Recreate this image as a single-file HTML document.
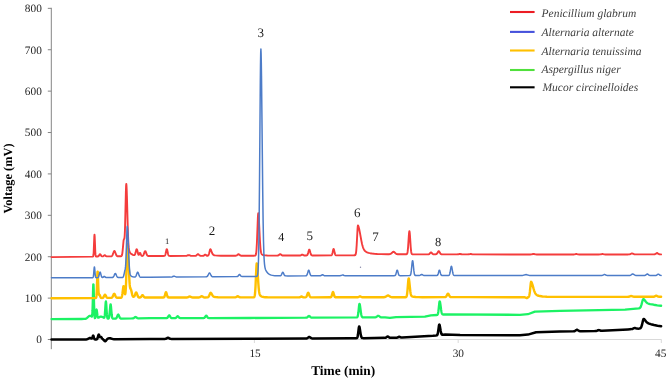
<!DOCTYPE html>
<html><head><meta charset="utf-8"><style>
html,body{margin:0;padding:0;background:#fff;width:668px;height:380px;overflow:hidden;}
svg{display:block;will-change:transform;}
</style></head><body>
<svg width="668" height="380" viewBox="0 0 668 380" text-rendering="geometricPrecision">
<rect width="668" height="380" fill="#ffffff"/>
<g font-family="Liberation Serif" fill="#262626" font-size="11.3">
<text x="41.8" y="12.25" text-anchor="end">800</text><text x="41.8" y="53.64" text-anchor="end">700</text><text x="41.8" y="95.04" text-anchor="end">600</text><text x="41.8" y="136.43" text-anchor="end">500</text><text x="41.8" y="177.82" text-anchor="end">400</text><text x="41.8" y="219.22" text-anchor="end">300</text><text x="41.8" y="260.61" text-anchor="end">200</text><text x="41.8" y="302.01" text-anchor="end">100</text><text x="41.8" y="343.40" text-anchor="end">0</text>
<text x="255.1" y="356.9" text-anchor="middle">15</text><text x="458.3" y="356.9" text-anchor="middle">30</text><text x="660.7" y="356.9" text-anchor="middle">45</text>
</g>
<line x1="51.3" y1="7.8" x2="51.3" y2="349.2" stroke="#858585" stroke-width="1"/><line x1="47.8" y1="8.35" x2="51.3" y2="8.35" stroke="#858585" stroke-width="1"/><line x1="47.8" y1="49.74" x2="51.3" y2="49.74" stroke="#858585" stroke-width="1"/><line x1="47.8" y1="91.14" x2="51.3" y2="91.14" stroke="#858585" stroke-width="1"/><line x1="47.8" y1="132.53" x2="51.3" y2="132.53" stroke="#858585" stroke-width="1"/><line x1="47.8" y1="173.92" x2="51.3" y2="173.92" stroke="#858585" stroke-width="1"/><line x1="47.8" y1="215.32" x2="51.3" y2="215.32" stroke="#858585" stroke-width="1"/><line x1="47.8" y1="256.71" x2="51.3" y2="256.71" stroke="#858585" stroke-width="1"/><line x1="47.8" y1="298.11" x2="51.3" y2="298.11" stroke="#858585" stroke-width="1"/><line x1="47.8" y1="339.50" x2="51.3" y2="339.50" stroke="#858585" stroke-width="1"/>
<line x1="51.3" y1="339.5" x2="661.5" y2="339.5" stroke="#d9d9d9" stroke-width="1"/><line x1="254.4" y1="339.5" x2="254.4" y2="343" stroke="#d9d9d9" stroke-width="1"/><line x1="458.2" y1="339.5" x2="458.2" y2="343" stroke="#d9d9d9" stroke-width="1"/><line x1="661.3" y1="339.5" x2="661.3" y2="343" stroke="#d9d9d9" stroke-width="1"/>
<path d="M51.50,339.60 L84.10,339.51 L86.10,339.45 L86.90,339.33 L87.50,339.13 L89.10,338.25 L89.70,338.03 L90.10,338.00 L90.50,338.08 L91.50,338.50 L91.70,338.52 L91.90,338.44 L92.10,338.21 L92.30,337.78 L92.90,335.92 L93.10,335.58 L93.30,335.62 L93.50,336.04 L94.10,338.19 L94.30,338.72 L94.50,339.06 L94.70,339.26 L95.10,339.40 L96.30,339.41 L96.70,339.34 L96.90,339.24 L97.10,339.07 L97.30,338.77 L97.70,337.71 L98.30,335.37 L98.50,334.82 L98.70,334.58 L98.90,334.68 L99.10,335.08 L99.50,336.24 L99.70,336.72 L99.90,337.02 L100.10,337.15 L100.30,337.13 L100.70,336.98 L100.90,336.97 L101.10,337.04 L101.50,337.47 L102.10,338.40 L102.50,338.92 L103.70,339.96 L104.70,341.04 L104.90,341.17 L105.10,341.24 L105.30,341.22 L105.70,340.95 L106.90,339.40 L107.50,338.86 L107.90,338.62 L108.50,338.37 L109.10,338.23 L109.50,338.20 L110.30,338.29 L112.10,338.88 L112.90,339.08 L113.90,339.19 L115.30,339.23 L149.90,338.90 L164.90,338.88 L165.50,338.83 L166.10,338.69 L166.50,338.50 L167.50,337.84 L167.90,337.71 L168.10,337.71 L168.50,337.84 L169.50,338.50 L169.90,338.69 L170.50,338.83 L171.50,338.88 L249.90,338.80 L304.30,338.53 L305.90,338.49 L306.50,338.42 L306.90,338.31 L307.50,338.02 L308.70,337.18 L309.10,337.02 L309.30,337.00 L309.50,337.02 L309.90,337.17 L310.90,337.88 L311.50,338.21 L312.10,338.39 L313.10,338.47 L349.90,338.30 L356.10,338.22 L356.50,338.18 L356.90,338.03 L357.10,337.84 L357.30,337.51 L357.50,336.98 L357.70,336.18 L357.90,335.07 L358.70,328.54 L358.90,327.25 L359.10,326.54 L359.30,326.51 L359.50,326.96 L359.70,327.82 L360.70,334.36 L361.10,336.24 L361.30,336.87 L361.50,337.33 L361.70,337.64 L361.90,337.85 L362.30,338.06 L362.70,338.12 L363.50,338.14 L384.70,337.87 L385.30,337.80 L385.90,337.60 L386.30,337.36 L387.10,336.73 L387.50,336.53 L387.70,336.50 L387.90,336.52 L388.30,336.71 L389.10,337.33 L389.50,337.56 L389.90,337.70 L390.50,337.79 L395.30,337.76 L396.70,337.70 L397.50,337.52 L398.70,336.91 L399.10,336.81 L399.30,336.80 L399.70,336.90 L400.70,337.36 L401.10,337.49 L401.70,337.56 L402.30,337.56 L432.90,335.81 L436.10,335.49 L436.70,335.38 L437.10,335.15 L437.30,334.90 L437.50,334.51 L437.70,333.89 L438.10,331.84 L438.90,325.84 L439.10,324.90 L439.30,324.55 L439.50,324.74 L439.70,325.33 L440.10,327.38 L440.70,331.04 L441.10,332.89 L441.30,333.53 L441.50,334.01 L441.70,334.33 L441.90,334.55 L442.10,334.68 L442.50,334.79 L443.10,334.78 L445.10,334.60 L460.10,335.10 L519.90,335.20 L527.90,334.61 L536.10,332.20 L559.90,331.50 L573.50,331.31 L574.30,331.20 L574.90,330.99 L575.30,330.76 L576.30,330.04 L576.70,329.85 L576.90,329.81 L577.10,329.80 L577.50,329.92 L578.70,330.72 L579.10,330.94 L579.70,331.14 L580.30,331.21 L581.70,331.23 L594.70,331.06 L595.70,331.02 L596.50,330.90 L597.10,330.70 L598.10,330.25 L598.70,330.10 L599.30,330.17 L600.90,330.75 L601.50,330.84 L602.30,330.86 L627.90,329.41 L630.10,329.24 L631.50,329.11 L632.30,328.96 L632.90,328.74 L634.10,328.15 L634.70,328.00 L635.30,328.06 L636.50,328.47 L637.10,328.60 L638.10,328.63 L639.30,328.53 L640.10,328.33 L640.50,328.11 L640.90,327.69 L641.30,326.97 L641.50,326.48 L641.90,325.18 L643.10,320.15 L643.30,319.54 L643.50,319.11 L643.70,318.88 L643.90,318.90 L644.50,319.42 L646.10,321.57 L646.70,322.24 L647.50,322.87 L648.50,323.38 L649.50,323.75 L650.90,324.18 L654.10,325.01 L657.50,325.70 L661.10,326.27" fill="none" stroke="#000000" stroke-width="2.5" stroke-linejoin="round" stroke-linecap="round"/><path d="M51.50,319.10 L81.70,319.01 L84.10,318.96 L85.30,318.80 L85.90,318.62 L86.30,318.43 L87.10,317.89 L88.90,316.26 L89.30,316.00 L89.70,315.84 L90.10,315.80 L90.50,315.89 L90.90,316.09 L91.70,316.63 L91.90,316.54 L92.10,315.94 L92.30,314.24 L92.50,310.68 L92.70,304.75 L93.10,289.26 L93.30,284.42 L93.50,284.54 L93.70,289.63 L94.10,305.60 L94.30,311.75 L94.50,315.53 L94.70,317.39 L94.90,318.05 L95.10,318.00 L95.30,317.47 L95.50,316.46 L96.10,311.44 L96.30,310.09 L96.50,309.56 L96.70,310.00 L96.90,311.24 L97.50,315.98 L97.70,316.91 L97.90,317.44 L98.10,317.66 L98.30,317.70 L98.50,317.65 L99.90,316.87 L100.50,316.66 L100.90,316.60 L101.30,316.62 L101.90,316.77 L102.50,317.04 L103.50,317.62 L103.90,317.78 L104.10,317.76 L104.30,317.56 L104.50,317.02 L104.70,315.91 L104.90,314.04 L105.50,304.79 L105.70,302.35 L105.90,301.46 L106.10,302.42 L106.30,304.93 L106.70,311.63 L106.90,314.41 L107.10,316.37 L107.30,317.57 L107.50,318.21 L107.70,318.51 L107.90,318.64 L108.10,318.67 L108.30,318.64 L108.50,318.55 L108.70,318.35 L108.90,317.96 L109.10,317.26 L109.30,316.15 L109.70,312.43 L110.30,305.61 L110.50,304.50 L110.70,304.49 L110.90,305.60 L111.70,314.51 L111.90,316.12 L112.10,317.23 L112.30,317.92 L112.50,318.31 L112.70,318.51 L112.90,318.60 L113.50,318.65 L115.30,318.61 L115.70,318.54 L116.10,318.35 L116.50,317.93 L116.70,317.59 L117.70,315.09 L117.90,314.73 L118.10,314.53 L118.30,314.52 L118.50,314.72 L118.70,315.08 L119.50,317.14 L119.90,317.89 L120.10,318.13 L120.50,318.41 L120.90,318.52 L121.50,318.55 L131.70,318.43 L132.90,318.37 L133.30,318.29 L133.70,318.13 L134.10,317.88 L134.90,317.24 L135.30,317.03 L135.50,317.00 L135.70,317.02 L136.10,317.22 L136.90,317.85 L137.30,318.09 L137.90,318.27 L138.50,318.33 L150.10,318.20 L166.30,318.15 L166.90,318.06 L167.30,317.86 L167.50,317.68 L167.90,317.16 L168.70,315.71 L168.90,315.46 L169.10,315.32 L169.30,315.32 L169.50,315.45 L169.90,316.05 L170.50,317.15 L170.70,317.45 L171.10,317.85 L171.30,317.97 L171.70,318.10 L172.50,318.15 L174.90,318.13 L175.30,318.09 L175.70,317.98 L176.10,317.75 L176.30,317.57 L177.30,316.38 L177.50,316.25 L177.70,316.20 L177.90,316.25 L178.10,316.38 L178.90,317.34 L179.30,317.74 L179.70,317.98 L180.30,318.11 L203.50,318.07 L204.10,317.93 L204.50,317.69 L204.90,317.25 L205.70,316.04 L205.90,315.83 L206.10,315.71 L206.30,315.71 L206.50,315.83 L206.90,316.32 L207.50,317.24 L207.70,317.49 L208.10,317.83 L208.70,318.03 L209.50,318.08 L250.10,318.00 L305.50,317.72 L306.50,317.64 L307.10,317.43 L307.50,317.16 L308.50,316.20 L308.90,316.01 L309.10,316.01 L309.50,316.20 L310.50,317.14 L310.90,317.42 L311.50,317.62 L312.10,317.68 L356.50,317.46 L356.90,317.40 L357.10,317.31 L357.30,317.15 L357.50,316.86 L357.70,316.38 L357.90,315.62 L358.30,313.04 L359.10,305.45 L359.30,304.27 L359.50,303.85 L359.70,304.12 L359.90,304.89 L360.30,307.57 L360.90,312.34 L361.30,314.75 L361.50,315.60 L361.70,316.23 L361.90,316.68 L362.10,316.98 L362.30,317.17 L362.70,317.36 L363.10,317.41 L363.90,317.43 L374.90,317.36 L375.50,317.27 L376.10,317.05 L376.50,316.81 L377.50,316.05 L377.90,315.85 L378.10,315.81 L378.30,315.81 L378.70,315.93 L380.10,316.94 L380.50,317.15 L381.10,317.31 L382.10,317.39 L385.10,317.41 L389.90,317.89 L396.10,317.20 L424.90,316.60 L430.90,315.42 L436.70,315.01 L437.10,314.92 L437.30,314.83 L437.50,314.66 L437.70,314.36 L437.90,313.86 L438.10,313.10 L438.30,311.99 L438.70,308.72 L439.30,302.96 L439.50,301.78 L439.70,301.35 L439.90,301.60 L440.10,302.35 L440.50,304.97 L441.10,309.65 L441.50,312.00 L441.70,312.83 L441.90,313.44 L442.10,313.86 L442.30,314.14 L442.50,314.32 L442.70,314.42 L443.30,314.51 L445.10,314.40 L519.90,314.80 L527.90,314.21 L534.90,311.64 L535.10,311.60 L560.10,310.80 L625.10,309.59 L638.70,308.35 L639.30,308.25 L639.70,308.09 L640.10,307.79 L640.30,307.56 L640.70,306.91 L640.90,306.47 L641.50,304.65 L642.30,301.53 L642.70,300.15 L642.90,299.63 L643.10,299.27 L643.30,299.08 L643.50,299.09 L643.70,299.19 L644.30,299.71 L645.90,301.80 L646.70,302.65 L647.50,303.21 L648.30,303.57 L650.10,304.05 L653.70,304.74 L657.30,305.29 L661.10,305.76" fill="none" stroke="#1cf264" stroke-width="2.3" stroke-linejoin="round" stroke-linecap="round"/><path d="M51.50,298.20 L89.90,298.10 L95.30,298.05 L95.70,298.02 L95.90,297.96 L96.10,297.74 L96.30,297.13 L96.50,295.66 L96.70,292.74 L96.90,288.00 L97.30,275.67 L97.50,271.75 L97.70,271.65 L97.90,275.37 L98.30,287.03 L98.50,291.28 L98.70,293.63 L98.90,294.54 L99.10,294.70 L99.30,294.65 L99.50,294.71 L99.70,294.98 L100.50,297.03 L100.70,297.40 L100.90,297.66 L101.30,297.90 L101.90,297.97 L102.30,297.94 L102.70,297.85 L103.10,297.62 L103.50,297.15 L103.70,296.82 L104.30,295.56 L104.70,294.88 L104.90,294.72 L105.10,294.72 L105.30,294.87 L105.50,295.16 L106.50,297.12 L106.70,297.39 L107.10,297.72 L107.50,297.86 L108.10,297.91 L110.70,297.88 L111.50,297.78 L111.90,297.59 L112.30,297.21 L112.70,296.56 L113.70,294.28 L113.90,293.98 L114.10,293.82 L114.30,293.82 L114.50,293.98 L114.70,294.27 L115.50,296.10 L115.90,296.88 L116.10,297.17 L116.50,297.55 L116.70,297.65 L117.10,297.77 L117.90,297.82 L120.70,297.78 L121.10,297.70 L121.30,297.60 L121.50,297.41 L121.70,297.08 L121.90,296.55 L122.10,295.75 L122.50,293.20 L123.10,288.09 L123.30,286.80 L123.50,286.09 L123.70,286.08 L123.90,286.78 L124.10,288.04 L124.70,292.76 L124.90,293.78 L125.10,294.19 L125.30,293.82 L125.50,292.51 L125.70,290.12 L125.90,286.53 L126.10,281.69 L127.10,249.24 L127.30,245.51 L127.50,244.20 L127.70,245.44 L127.90,247.84 L128.10,251.24 L129.10,274.45 L129.50,281.81 L129.70,284.44 L129.90,286.34 L130.10,287.60 L130.30,288.35 L130.50,288.77 L130.90,289.37 L131.10,289.84 L131.50,291.38 L132.30,295.02 L132.50,295.63 L132.70,296.08 L132.90,296.40 L133.10,296.60 L133.30,296.72 L133.50,296.77 L133.70,296.76 L133.90,296.68 L134.10,296.54 L134.30,296.32 L134.70,295.60 L135.70,292.98 L135.90,292.64 L136.10,292.47 L136.30,292.49 L136.50,292.70 L136.70,293.07 L137.70,295.88 L138.10,296.69 L138.30,296.97 L138.70,297.31 L139.30,297.49 L140.10,297.47 L140.50,297.34 L140.70,297.22 L141.10,296.82 L142.10,295.31 L142.30,295.14 L142.50,295.08 L142.70,295.14 L142.90,295.31 L143.70,296.53 L144.10,297.04 L144.50,297.34 L145.10,297.50 L145.90,297.53 L162.50,297.49 L163.50,297.45 L163.90,297.32 L164.10,297.17 L164.30,296.93 L164.50,296.57 L164.90,295.43 L165.50,293.14 L165.70,292.56 L165.90,292.24 L166.10,292.24 L166.30,292.56 L166.50,293.14 L167.10,295.43 L167.50,296.57 L167.70,296.93 L167.90,297.17 L168.30,297.40 L168.70,297.46 L186.90,297.44 L187.50,297.38 L187.90,297.27 L189.10,296.66 L189.50,296.52 L189.70,296.50 L189.90,296.52 L190.30,296.66 L191.50,297.27 L192.30,297.43 L198.70,297.44 L199.30,297.38 L199.90,297.20 L200.30,296.98 L201.10,296.41 L201.50,296.22 L201.70,296.20 L202.10,296.30 L203.30,297.10 L203.90,297.34 L204.90,297.44 L207.30,297.40 L207.70,297.33 L208.10,297.16 L208.50,296.81 L208.70,296.55 L209.10,295.83 L210.10,293.44 L210.30,293.10 L210.50,292.88 L210.70,292.80 L210.90,292.93 L211.30,293.39 L212.50,295.41 L212.90,295.97 L213.30,296.38 L213.70,296.67 L214.30,296.92 L214.90,297.05 L215.70,297.15 L218.10,297.30 L221.30,297.38 L234.70,297.40 L235.30,297.35 L235.90,297.17 L236.30,296.96 L237.10,296.40 L237.50,296.22 L237.70,296.20 L237.90,296.22 L238.30,296.40 L239.10,296.96 L239.50,297.17 L239.90,297.30 L240.50,297.39 L252.90,297.40 L253.50,297.38 L253.90,297.29 L254.10,297.18 L254.30,296.94 L254.50,296.51 L254.70,295.78 L254.90,294.58 L255.10,292.75 L255.50,286.75 L256.30,268.55 L256.50,265.17 L256.70,263.34 L256.90,263.56 L257.10,265.08 L257.30,267.31 L258.30,282.97 L258.70,288.10 L259.10,291.63 L259.50,293.75 L259.70,294.44 L260.10,295.31 L260.50,295.81 L260.90,296.12 L261.70,296.53 L262.70,296.84 L263.70,297.04 L265.10,297.20 L267.50,297.32 L271.10,297.37 L298.90,297.35 L299.50,297.32 L299.90,297.24 L300.30,297.08 L301.10,296.60 L301.50,296.50 L301.90,296.60 L302.70,297.08 L303.30,297.29 L304.10,297.35 L305.30,297.33 L305.90,297.18 L306.30,296.85 L306.50,296.57 L306.90,295.71 L307.70,293.37 L307.90,292.95 L308.10,292.73 L308.30,292.73 L308.50,292.95 L308.70,293.36 L309.50,295.71 L309.90,296.57 L310.30,297.04 L310.50,297.17 L310.90,297.30 L312.10,297.35 L330.30,297.32 L330.70,297.25 L331.10,297.01 L331.30,296.77 L331.50,296.41 L331.90,295.26 L332.50,292.95 L332.70,292.36 L332.90,292.04 L333.10,292.04 L333.30,292.36 L333.50,292.95 L334.10,295.26 L334.50,296.41 L334.70,296.77 L334.90,297.01 L335.30,297.24 L335.70,297.31 L357.10,297.30 L357.70,297.25 L358.10,297.16 L358.50,297.01 L359.50,296.51 L359.90,296.40 L360.10,296.40 L360.50,296.51 L361.50,297.01 L361.90,297.16 L362.30,297.24 L362.90,297.29 L383.30,297.26 L384.30,297.19 L385.10,297.00 L385.90,296.61 L387.30,295.68 L387.70,295.54 L388.10,295.50 L388.70,295.68 L390.10,296.60 L390.70,296.91 L391.30,297.10 L391.90,297.20 L393.90,297.25 L404.90,297.23 L405.70,297.19 L406.10,297.05 L406.30,296.88 L406.50,296.57 L406.70,296.04 L406.90,295.23 L407.10,294.02 L407.50,290.28 L408.30,280.37 L408.50,278.91 L408.70,278.40 L408.90,278.94 L409.10,280.06 L409.30,281.65 L410.30,291.24 L410.70,293.73 L411.10,295.18 L411.30,295.62 L411.50,295.92 L411.90,296.29 L412.30,296.48 L412.90,296.65 L413.70,296.81 L415.70,297.03 L418.30,297.14 L422.30,297.18 L444.90,297.12 L445.50,297.00 L445.90,296.77 L446.10,296.58 L446.50,296.03 L447.50,294.11 L447.70,293.85 L447.90,293.72 L448.10,293.72 L448.30,293.85 L448.50,294.10 L449.50,296.02 L449.90,296.57 L450.10,296.76 L450.50,296.99 L450.90,297.09 L451.30,297.12 L470.10,297.10 L519.90,297.30 L524.10,297.26 L524.70,297.29 L525.10,297.37 L525.50,297.53 L526.30,298.00 L526.70,298.10 L526.90,298.07 L527.30,297.88 L528.50,297.11 L528.70,296.92 L528.90,296.64 L529.10,296.20 L529.30,295.54 L529.70,293.34 L529.90,291.74 L530.70,283.92 L530.90,282.54 L531.10,281.80 L531.30,281.83 L531.50,282.15 L531.90,283.04 L532.50,284.87 L533.70,289.18 L534.30,291.08 L534.90,292.57 L535.30,293.34 L535.70,293.95 L536.10,294.42 L536.70,294.92 L537.30,295.27 L537.90,295.52 L538.70,295.77 L539.90,296.05 L542.50,296.45 L544.50,296.64 L546.90,296.77 L553.30,296.89 L626.70,296.83 L627.90,296.81 L628.70,296.72 L629.30,296.56 L630.50,296.10 L631.10,296.00 L631.70,296.10 L633.30,296.67 L633.90,296.77 L634.50,296.81 L652.50,296.81 L653.50,296.78 L654.10,296.69 L654.70,296.45 L655.70,295.83 L656.10,295.71 L656.30,295.71 L656.70,295.83 L657.70,296.44 L658.30,296.68 L659.10,296.79 L661.10,296.80" fill="none" stroke="#ffc000" stroke-width="2.4" stroke-linejoin="round" stroke-linecap="round"/><path d="M51.50,257.09 L92.30,256.58 L92.90,256.53 L93.10,256.40 L93.30,255.94 L93.50,254.71 L93.70,252.05 L94.30,236.71 L94.50,234.65 L94.70,236.71 L95.30,252.04 L95.50,254.69 L95.70,255.92 L95.90,256.37 L96.10,256.50 L96.50,256.53 L97.50,256.51 L98.10,256.38 L98.50,256.12 L98.70,255.90 L99.70,254.36 L99.90,254.22 L100.10,254.22 L100.30,254.35 L100.50,254.60 L101.30,255.87 L101.70,256.24 L102.10,256.40 L102.70,256.41 L103.10,256.30 L103.50,256.06 L104.30,255.35 L104.50,255.24 L104.70,255.20 L104.90,255.24 L105.10,255.34 L106.10,256.17 L106.70,256.38 L107.50,256.42 L110.10,256.40 L110.90,256.36 L111.30,256.29 L111.70,256.12 L111.90,255.97 L112.30,255.50 L112.50,255.16 L112.90,254.24 L113.70,251.95 L114.10,251.15 L114.30,250.97 L114.50,250.97 L114.70,251.14 L114.90,251.48 L115.30,252.48 L115.90,254.21 L116.30,255.12 L116.70,255.73 L117.10,256.06 L117.70,256.26 L119.10,256.31 L120.90,256.27 L121.30,256.17 L121.50,256.03 L121.70,255.78 L121.90,255.34 L122.10,254.63 L122.30,253.55 L122.70,250.12 L123.50,241.21 L123.70,239.90 L123.90,239.23 L124.30,238.71 L124.50,237.79 L124.70,235.56 L124.90,231.49 L125.10,225.34 L125.90,191.03 L126.10,185.67 L126.30,183.83 L126.50,185.86 L126.70,190.06 L126.90,196.04 L127.90,232.42 L128.30,241.90 L128.50,245.09 L128.70,247.44 L128.90,249.11 L129.10,250.29 L129.30,251.12 L129.50,251.71 L129.90,252.49 L130.30,253.01 L130.70,253.42 L131.70,254.20 L132.90,254.84 L133.50,255.06 L133.90,255.16 L134.30,255.14 L134.50,255.04 L134.70,254.87 L134.90,254.58 L135.10,254.15 L135.50,252.88 L136.30,249.75 L136.50,249.31 L136.70,249.18 L136.90,249.36 L137.10,249.84 L138.10,253.84 L138.30,254.38 L138.50,254.71 L138.70,254.81 L138.90,254.70 L139.10,254.40 L139.70,253.11 L139.90,252.89 L140.10,252.90 L140.30,253.15 L140.90,254.64 L141.30,255.45 L141.50,255.69 L141.70,255.84 L141.90,255.92 L142.30,255.93 L142.70,255.80 L143.10,255.48 L143.30,255.21 L143.70,254.42 L144.70,251.66 L144.90,251.30 L145.10,251.10 L145.30,251.10 L145.50,251.29 L145.70,251.66 L146.70,254.41 L147.10,255.20 L147.50,255.66 L147.70,255.80 L148.10,255.94 L149.30,256.00 L163.30,255.96 L164.30,255.91 L164.70,255.74 L164.90,255.55 L165.10,255.24 L165.30,254.78 L165.70,253.31 L166.30,250.36 L166.50,249.61 L166.70,249.20 L166.90,249.20 L167.10,249.61 L167.30,250.35 L167.90,253.30 L168.30,254.77 L168.50,255.23 L168.70,255.54 L168.90,255.73 L169.30,255.89 L170.30,255.94 L185.90,255.88 L186.90,255.73 L188.10,255.23 L188.70,255.10 L189.30,255.23 L190.50,255.72 L191.10,255.83 L192.30,255.87 L195.10,255.84 L195.70,255.75 L196.10,255.59 L196.50,255.32 L197.50,254.40 L197.90,254.21 L198.10,254.21 L198.30,254.27 L198.70,254.56 L199.30,255.14 L199.70,255.46 L200.10,255.67 L200.50,255.78 L201.10,255.83 L202.10,255.84 L203.30,255.77 L203.90,255.51 L204.90,254.68 L205.10,254.61 L205.30,254.61 L205.70,254.82 L206.30,255.35 L206.70,255.62 L207.10,255.75 L207.50,255.77 L207.90,255.68 L208.10,255.57 L208.30,255.39 L208.50,255.11 L208.70,254.70 L209.10,253.47 L209.90,250.11 L210.10,249.51 L210.30,249.19 L210.50,249.23 L210.90,249.84 L212.10,252.97 L212.50,253.81 L212.90,254.41 L213.30,254.80 L213.70,255.04 L214.30,255.24 L215.10,255.39 L217.50,255.61 L220.90,255.73 L226.70,255.76 L235.50,255.73 L236.10,255.66 L236.70,255.44 L237.10,255.16 L237.90,254.45 L238.30,254.23 L238.50,254.20 L238.70,254.23 L239.10,254.45 L239.90,255.15 L240.30,255.43 L240.70,255.59 L241.30,255.70 L254.10,255.68 L254.70,255.67 L255.10,255.60 L255.30,255.52 L255.50,255.34 L255.70,255.02 L255.90,254.46 L256.10,253.53 L256.30,252.08 L256.50,249.92 L256.90,242.99 L257.90,217.15 L258.10,214.19 L258.30,213.15 L258.50,214.27 L258.70,216.48 L258.90,219.63 L259.70,236.24 L260.10,243.44 L260.50,248.51 L260.90,251.58 L261.10,252.55 L261.30,253.24 L261.50,253.73 L261.70,254.07 L262.10,254.49 L262.50,254.74 L263.30,255.03 L264.30,255.25 L265.50,255.41 L267.30,255.53 L269.70,255.59 L276.10,255.60 L277.50,255.56 L277.90,255.50 L278.30,255.37 L278.70,255.14 L279.70,254.36 L280.10,254.21 L280.30,254.21 L280.70,254.36 L281.70,255.13 L282.10,255.35 L282.50,255.48 L283.10,255.56 L299.90,255.50 L300.30,255.46 L300.70,255.35 L301.10,255.16 L301.70,254.76 L302.10,254.61 L302.50,254.66 L303.50,255.26 L304.10,255.44 L305.10,255.49 L306.50,255.44 L306.90,255.32 L307.10,255.19 L307.30,254.99 L307.50,254.70 L307.70,254.28 L308.10,253.09 L308.90,250.20 L309.10,249.79 L309.30,249.65 L309.50,249.79 L309.70,250.20 L310.50,253.08 L310.90,254.27 L311.30,254.98 L311.50,255.18 L311.90,255.38 L312.30,255.44 L313.10,255.46 L330.90,255.38 L331.30,255.29 L331.50,255.19 L331.70,255.01 L331.90,254.72 L332.10,254.28 L332.50,252.89 L333.10,250.09 L333.30,249.39 L333.50,249.00 L333.70,249.00 L333.90,249.39 L334.10,250.09 L334.70,252.88 L335.10,254.27 L335.30,254.71 L335.50,255.00 L335.70,255.17 L335.90,255.28 L336.30,255.36 L337.30,255.37 L353.90,255.31 L354.50,255.29 L354.90,255.23 L355.10,255.14 L355.30,254.98 L355.50,254.68 L355.70,254.17 L355.90,253.34 L356.10,252.09 L356.30,250.30 L356.70,244.80 L357.50,229.68 L357.70,227.00 L357.90,225.55 L358.10,225.53 L358.30,225.97 L358.70,227.15 L359.30,229.60 L359.90,232.64 L361.30,240.35 L361.90,243.25 L362.30,244.92 L362.70,246.37 L363.10,247.58 L363.50,248.58 L364.10,249.74 L364.70,250.63 L365.30,251.26 L366.10,251.85 L367.10,252.34 L368.50,252.81 L370.10,253.19 L372.10,253.53 L374.30,253.78 L377.30,254.00 L381.10,254.15 L387.50,254.25 L389.50,254.20 L390.30,254.01 L390.90,253.72 L391.50,253.25 L392.70,252.11 L393.10,251.87 L393.50,251.78 L393.90,251.87 L394.30,252.12 L395.50,253.26 L396.10,253.73 L396.70,254.03 L397.30,254.19 L398.70,254.29 L405.50,254.31 L406.30,254.28 L406.70,254.16 L406.90,254.00 L407.10,253.71 L407.30,253.21 L407.50,252.40 L407.70,251.17 L408.10,247.12 L408.90,234.83 L409.10,232.55 L409.30,231.31 L409.50,231.31 L409.70,232.55 L409.90,234.83 L410.70,247.12 L411.10,251.18 L411.30,252.41 L411.50,253.22 L411.70,253.72 L411.90,254.01 L412.10,254.17 L412.50,254.29 L427.10,254.34 L428.50,254.30 L428.90,254.21 L429.30,254.02 L429.70,253.66 L430.50,252.68 L430.70,252.50 L430.90,252.41 L431.10,252.41 L431.30,252.51 L431.50,252.68 L432.50,253.86 L432.70,254.02 L433.10,254.22 L433.90,254.34 L435.70,254.32 L436.30,254.17 L436.70,253.93 L436.90,253.73 L437.30,253.17 L438.10,251.72 L438.30,251.44 L438.50,251.26 L438.70,251.20 L438.90,251.26 L439.10,251.44 L439.50,252.07 L440.10,253.17 L440.50,253.73 L440.70,253.93 L440.90,254.08 L441.30,254.25 L441.70,254.32 L442.30,254.36 L457.10,254.38 L458.10,254.32 L459.50,254.04 L460.10,254.00 L461.70,254.30 L462.50,254.37 L467.50,254.39 L468.70,254.32 L469.90,254.07 L470.50,254.00 L470.90,254.03 L472.50,254.35 L473.70,254.40 L530.10,254.47 L531.50,254.40 L533.10,254.04 L533.50,254.00 L533.90,254.04 L535.50,254.41 L536.70,254.47 L572.50,254.49 L574.10,254.43 L574.70,254.33 L575.70,254.06 L576.30,254.00 L576.70,254.06 L578.10,254.40 L579.10,254.47 L598.50,254.46 L600.30,254.41 L600.90,254.31 L601.90,254.05 L602.50,254.00 L602.90,254.05 L604.30,254.38 L605.30,254.45 L627.70,254.43 L628.90,254.40 L629.70,254.27 L630.30,254.05 L631.50,253.49 L632.10,253.40 L632.70,253.56 L634.10,254.20 L634.70,254.34 L635.30,254.40 L653.30,254.41 L654.30,254.37 L654.90,254.25 L655.50,253.95 L656.50,253.17 L656.90,253.01 L657.10,253.01 L657.50,253.16 L658.50,253.95 L659.10,254.25 L659.90,254.38 L661.10,254.40" fill="none" stroke="#f43c3c" stroke-width="1.9" stroke-linejoin="round" stroke-linecap="round"/><path d="M51.50,277.80 L89.90,277.70 L92.70,277.65 L92.90,277.56 L93.10,277.31 L93.30,276.71 L93.50,275.52 L93.70,273.58 L94.10,268.55 L94.30,266.97 L94.50,266.97 L94.70,268.55 L95.10,273.57 L95.30,275.50 L95.50,276.69 L95.70,277.29 L95.90,277.54 L96.10,277.63 L97.10,277.65 L97.70,277.59 L98.10,277.41 L98.30,277.21 L98.50,276.90 L98.70,276.46 L98.90,275.86 L99.70,272.80 L99.90,272.32 L100.10,272.15 L100.30,272.32 L100.50,272.79 L101.10,275.12 L101.50,276.43 L101.70,276.87 L101.90,277.17 L102.10,277.35 L102.30,277.44 L102.50,277.46 L102.90,277.34 L103.90,276.54 L104.10,276.44 L104.30,276.40 L104.50,276.44 L104.70,276.54 L105.70,277.33 L106.10,277.50 L106.50,277.56 L111.70,277.55 L112.30,277.51 L112.70,277.41 L113.10,277.19 L113.50,276.75 L113.90,276.03 L114.70,274.17 L114.90,273.81 L115.10,273.58 L115.30,273.50 L115.50,273.58 L115.70,273.81 L115.90,274.16 L116.70,276.01 L117.10,276.72 L117.30,276.97 L117.70,277.29 L118.30,277.47 L119.30,277.50 L122.10,277.48 L122.50,277.44 L122.90,277.28 L123.10,277.11 L123.30,276.83 L123.50,276.40 L123.90,275.04 L124.70,271.20 L125.10,269.50 L125.30,268.46 L125.50,266.92 L125.70,264.53 L125.90,261.00 L126.10,256.18 L126.90,231.34 L127.10,227.55 L127.30,226.25 L127.50,227.50 L127.70,230.10 L127.90,233.85 L128.90,258.62 L129.30,266.11 L129.50,268.84 L129.90,272.55 L130.10,273.71 L130.30,274.53 L130.50,275.11 L130.90,275.79 L131.30,276.15 L131.90,276.46 L132.90,276.78 L134.10,277.00 L134.90,277.01 L135.30,276.87 L135.70,276.50 L135.90,276.20 L136.30,275.32 L137.10,273.02 L137.30,272.58 L137.50,272.30 L137.70,272.21 L137.90,272.31 L138.10,272.61 L138.50,273.62 L139.10,275.41 L139.50,276.32 L139.70,276.64 L139.90,276.88 L140.30,277.16 L140.70,277.28 L141.30,277.33 L149.90,277.30 L170.50,277.12 L171.70,276.98 L172.30,276.79 L173.50,276.28 L174.10,276.20 L174.70,276.34 L176.10,276.89 L176.70,277.01 L177.50,277.07 L205.90,276.83 L206.70,276.70 L207.10,276.49 L207.30,276.32 L207.50,276.11 L207.90,275.51 L208.90,273.53 L209.10,273.25 L209.30,273.06 L209.50,273.00 L209.70,273.06 L209.90,273.24 L210.10,273.52 L211.10,275.48 L211.50,276.08 L211.70,276.29 L212.10,276.57 L212.50,276.71 L212.90,276.76 L214.50,276.78 L236.70,276.59 L237.30,276.50 L237.70,276.32 L237.90,276.17 L238.30,275.74 L239.10,274.70 L239.30,274.55 L239.50,274.50 L239.70,274.55 L239.90,274.69 L240.70,275.72 L241.10,276.14 L241.50,276.39 L242.10,276.53 L249.90,276.50 L255.90,276.38 L256.70,276.29 L256.90,276.20 L257.10,276.03 L257.30,275.72 L257.50,275.15 L257.70,274.16 L257.90,272.50 L258.10,269.84 L258.30,265.74 L258.50,259.65 L258.70,251.01 L258.90,239.27 L259.10,224.02 L259.50,182.85 L260.30,83.21 L260.50,64.87 L260.70,53.04 L260.90,48.95 L261.10,53.39 L261.30,62.54 L261.50,75.85 L262.70,189.81 L263.10,219.90 L263.50,240.93 L263.90,254.11 L264.10,258.44 L264.30,261.67 L264.50,264.05 L264.90,267.11 L265.30,268.87 L265.50,269.49 L265.90,270.45 L266.30,271.20 L266.90,272.10 L267.50,272.83 L268.10,273.42 L268.70,273.90 L269.50,274.40 L270.30,274.79 L271.30,275.14 L272.30,275.38 L273.50,275.58 L274.90,275.72 L276.50,275.80 L279.10,275.85 L280.10,275.81 L280.50,275.72 L280.70,275.62 L281.10,275.26 L281.50,274.60 L282.30,272.79 L282.50,272.47 L282.70,272.30 L282.90,272.30 L283.10,272.48 L283.30,272.80 L284.10,274.61 L284.50,275.27 L284.90,275.64 L285.10,275.74 L285.50,275.84 L287.70,275.88 L305.70,275.82 L306.10,275.75 L306.50,275.55 L306.90,275.07 L307.30,274.14 L308.30,270.69 L308.50,270.29 L308.70,270.15 L308.90,270.29 L309.10,270.68 L310.10,274.14 L310.50,275.06 L310.90,275.54 L311.30,275.74 L311.70,275.81 L320.10,275.78 L320.50,275.72 L320.90,275.58 L322.10,274.80 L322.50,274.70 L322.90,274.80 L323.90,275.47 L324.30,275.65 L324.70,275.74 L325.50,275.79 L339.90,275.75 L340.90,275.61 L342.10,275.13 L342.70,275.00 L343.10,275.06 L344.10,275.47 L344.70,275.65 L345.90,275.75 L394.30,275.64 L394.70,275.61 L395.10,275.47 L395.30,275.32 L395.50,275.07 L395.70,274.69 L395.90,274.17 L396.70,271.08 L396.90,270.48 L397.10,270.14 L397.30,270.14 L397.50,270.48 L397.70,271.08 L398.50,274.16 L398.70,274.69 L398.90,275.06 L399.10,275.31 L399.30,275.46 L399.70,275.60 L400.30,275.64 L409.50,275.60 L409.90,275.52 L410.10,275.42 L410.30,275.23 L410.50,274.91 L410.70,274.38 L410.90,273.58 L411.30,270.94 L412.10,262.94 L412.30,261.46 L412.50,260.65 L412.70,260.65 L412.90,261.46 L413.10,262.94 L413.90,270.93 L414.30,273.57 L414.50,274.37 L414.70,274.90 L414.90,275.22 L415.10,275.41 L415.30,275.51 L415.70,275.59 L418.30,275.60 L419.30,275.54 L419.90,275.38 L420.30,275.19 L421.10,274.68 L421.50,274.52 L421.70,274.50 L421.90,274.52 L422.30,274.68 L423.10,275.18 L423.50,275.38 L423.90,275.49 L424.50,275.57 L435.90,275.57 L436.90,275.52 L437.30,275.39 L437.50,275.24 L437.70,274.99 L437.90,274.62 L438.30,273.44 L438.90,271.07 L439.10,270.47 L439.30,270.14 L439.50,270.14 L439.70,270.47 L439.90,271.07 L440.50,273.44 L440.90,274.62 L441.10,274.99 L441.30,275.23 L441.50,275.38 L441.90,275.51 L442.50,275.55 L447.70,275.54 L448.50,275.49 L448.90,275.35 L449.10,275.19 L449.30,274.93 L449.50,274.54 L449.70,273.98 L450.10,272.27 L450.90,267.58 L451.10,266.75 L451.30,266.31 L451.50,266.31 L451.70,266.75 L451.90,267.58 L452.70,272.26 L453.10,273.97 L453.30,274.53 L453.50,274.92 L453.70,275.18 L454.10,275.43 L454.70,275.52 L521.30,275.44 L522.30,275.40 L523.10,275.31 L523.90,275.13 L525.30,274.69 L526.10,274.60 L526.70,274.69 L528.10,275.12 L528.90,275.31 L529.70,275.39 L530.70,275.43 L560.10,275.40 L601.10,275.44 L601.90,275.41 L602.50,275.31 L603.10,275.09 L604.10,274.57 L604.50,274.50 L604.70,274.52 L605.10,274.66 L606.30,275.26 L606.90,275.39 L607.50,275.44 L628.70,275.46 L629.70,275.42 L630.50,275.24 L631.10,274.93 L632.10,274.23 L632.50,274.04 L632.70,274.01 L632.90,274.01 L633.30,274.12 L634.50,274.93 L634.90,275.16 L635.30,275.31 L635.90,275.42 L637.10,275.47 L643.70,275.48 L644.70,275.43 L645.30,275.28 L645.90,274.93 L646.90,274.11 L647.30,274.00 L647.50,274.03 L647.90,274.25 L648.70,274.93 L649.10,275.19 L649.50,275.36 L649.90,275.44 L650.90,275.49 L654.50,275.49 L655.90,275.42 L656.50,275.24 L656.90,275.01 L657.70,274.41 L658.10,274.23 L658.30,274.20 L658.50,274.23 L658.90,274.41 L659.70,275.01 L660.10,275.24 L660.50,275.38 L661.10,275.47" fill="none" stroke="#4d7cc8" stroke-width="1.5" stroke-linejoin="round" stroke-linecap="round"/>
<circle cx="360.5" cy="267.2" r="0.7" fill="#8888a8"/>
<g font-family="Liberation Serif" font-style="italic" font-size="11.5" fill="#404040">
<line x1="510" y1="12.0" x2="534.6" y2="12.0" stroke="#ec1c24" stroke-width="2.1"/><text x="541.5" y="16.8">Penicillium glabrum</text><line x1="510" y1="31.9" x2="534.6" y2="31.9" stroke="#4652dc" stroke-width="2.1"/><text x="541.5" y="36.0">Alternaria alternate</text><line x1="510" y1="50.5" x2="534.6" y2="50.5" stroke="#ffc000" stroke-width="2.1"/><text x="541.5" y="55.0">Alternaria tenuissima</text><line x1="510" y1="70.0" x2="534.6" y2="70.0" stroke="#50e03c" stroke-width="2.1"/><text x="541.5" y="72.8">Aspergillus niger</text><line x1="510" y1="87.3" x2="534.6" y2="87.3" stroke="#000000" stroke-width="2.1"/><text x="542.5" y="90.5">Mucor circinelloides</text>
</g>
<g font-family="Liberation Serif" fill="#1a1a1a">
<text x="167.0" y="244.0" font-size="8.5" text-anchor="middle">1</text><text x="212.0" y="234.7" font-size="13" text-anchor="middle">2</text><text x="260.7" y="37.4" font-size="13" text-anchor="middle">3</text><text x="281.3" y="240.5" font-size="12" text-anchor="middle">4</text><text x="309.8" y="239.7" font-size="13" text-anchor="middle">5</text><text x="357.3" y="217.2" font-size="13" text-anchor="middle">6</text><text x="375.4" y="240.7" font-size="13" text-anchor="middle">7</text><text x="438.2" y="245.8" font-size="12.5" text-anchor="middle">8</text>
</g>
<text x="343.2" y="374.5" font-family="Liberation Serif" font-weight="bold" font-size="13.4" text-anchor="middle" fill="#000">Time (min)</text>
<text transform="translate(12.3,178.5) rotate(-90)" font-family="Liberation Serif" font-weight="bold" font-size="12.4" text-anchor="middle" fill="#000">Voltage (mV)</text>
</svg>
</body></html>
